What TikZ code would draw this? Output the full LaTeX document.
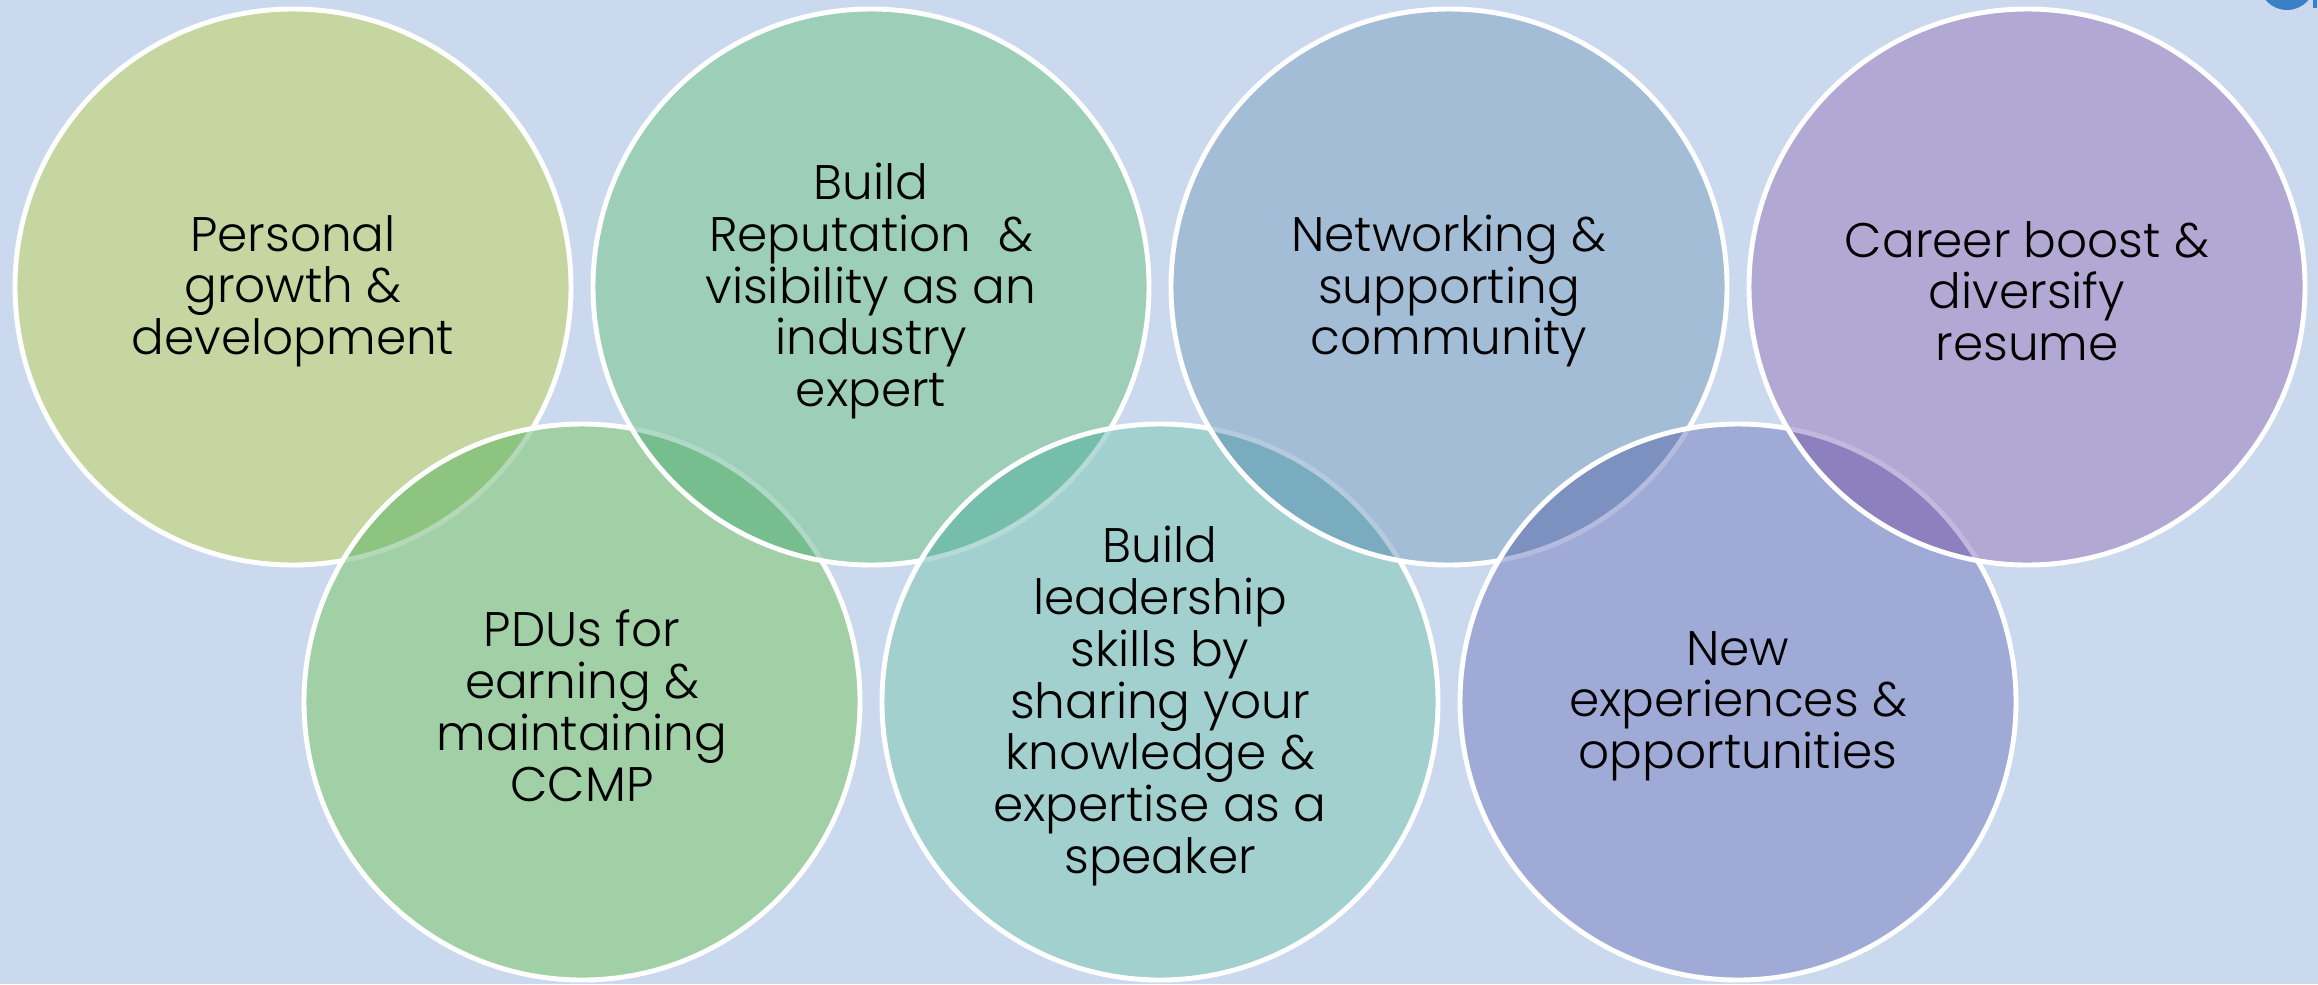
\documentclass[tikz,border=0pt]{standalone}
\usepackage{fontspec}
\setmainfont{Poppins}[UprightFont=* Light]
\definecolor{backdrop}{RGB}{203,217,238}
\definecolor{logoblue}{RGB}{59,128,198}
\definecolor{c-growth}{RGB}{198,214,160}
\definecolor{c-pdu}{RGB}{161,207,166}
\definecolor{c-reputation}{RGB}{156,206,184}
\definecolor{c-leadership}{RGB}{162,208,206}
\definecolor{c-network}{RGB}{164,189,214}
\definecolor{c-experience}{RGB}{160,170,214}
\definecolor{c-career}{RGB}{178,168,212}
\definecolor{l-pdu}{RGB}{140,196,128}
\definecolor{l-reputation}{RGB}{118,190,142}
\definecolor{l-leadership}{RGB}{118,190,172}
\definecolor{l-network}{RGB}{120,172,190}
\definecolor{l-experience}{RGB}{124,145,192}
\definecolor{l-career}{RGB}{140,128,190}

\begin{document}
\begin{tikzpicture}[x=0.01cm,y=-0.01cm]
\tikzset{rim/.style={white,line width=1.4pt},
         bubble text/.style={align=center,text=black,inner sep=0pt,yshift=-0.4mm,
            font=\fontsize{13.8}{14.7}\selectfont}}
\useasboundingbox (0,0) rectangle (2318,984);
\clip (0,0) rectangle (2318,984);
\fill[backdrop] (0,0) rectangle (2318,984);
\fill[logoblue] (2287,-18) circle (28);
\fill[logoblue] (2313,0) rectangle (2317,8);

% circle centres, top row and bottom row
\coordinate (growth) at (293,287);
\coordinate (reputation) at (871,287);
\coordinate (network) at (1449,287);
\coordinate (career) at (2027,287);
\coordinate (pdu) at (582,702);
\coordinate (leadership) at (1160,702);
\coordinate (experience) at (1738,702);

\fill[c-growth] (growth) circle (278);
\draw[rim] (growth) circle (278);
% each circle lies over the one before it
\foreach \c/\b in {pdu/growth,reputation/pdu,leadership/reputation,
                   network/leadership,experience/network,career/experience}
{
  \fill[c-\c] (\c) circle (278);
  \begin{scope}
    \clip (\c) circle (278);
    \fill[l-\c] (\b) circle (278);
    \draw[c-\c!80!white,line width=1.4pt] (\b) circle (278);
  \end{scope}
  \draw[rim] (\c) circle (278);
}

\node[bubble text] (growth text) at (growth) {Personal\\growth \&\\development};
\node[bubble text] (reputation text) at (reputation) {Build\\Reputation~ \&\\visibility as an\\industry\\expert};
\node[bubble text] (network text) at (network) {Networking \&\\supporting\\community};
\node[bubble text] (career text) at (career) {Career boost \&\\diversify\\resume};
\node[bubble text] (pdu text) at (pdu) {PDUs for\\earning \&\\maintaining\\CCMP};
\node[bubble text] (leadership text) at (leadership) {Build\\leadership\\skills by\\sharing your\\knowledge \&\\expertise as a\\speaker};
\node[bubble text] (experience text) at (experience) {New\\experiences \&\\opportunities};
\end{tikzpicture}
\end{document}
